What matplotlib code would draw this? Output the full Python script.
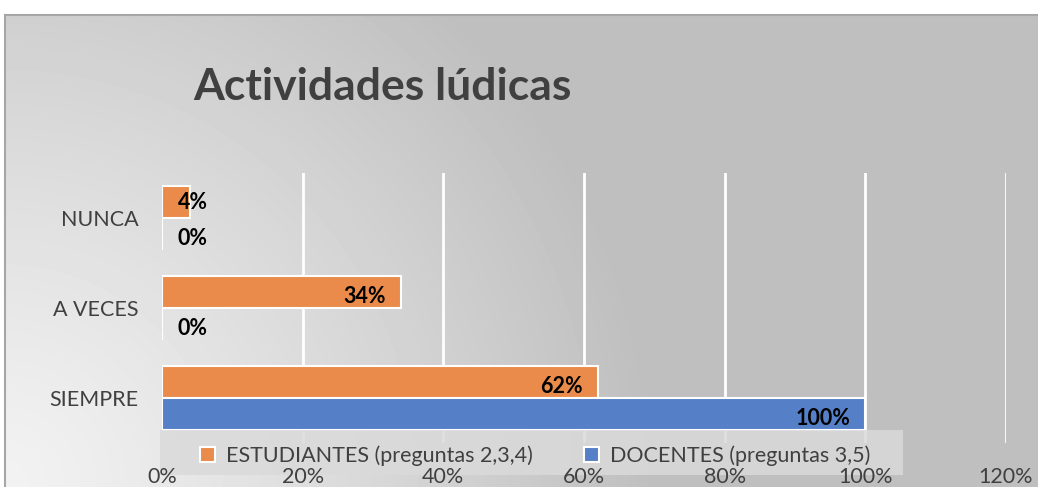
import numpy as np
import matplotlib
matplotlib.use("Agg")
import matplotlib.pyplot as plt
from matplotlib.patches import Rectangle

plt.rcParams["font.family"] = ["Lato", "DejaVu Sans"]

CATEGORIES = ["NUNCA", "A VECES", "SIEMPRE"]
ESTUDIANTES = [4, 34, 62]
DOCENTES = [0, 0, 100]
SERIES_NAMES = ["ESTUDIANTES (preguntas 2,3,4)", "DOCENTES (preguntas 3,5)"]
X_TICKS = [0, 20, 40, 60, 80, 100, 120]
TITLE = "Actividades lúdicas"

ORANGE = "#EB8B4B"
BLUE = "#5580C8"
TEXT = "#404040"

W, H = 1038, 487
fig = plt.figure(figsize=(W / 100, H / 100), dpi=100)
fig.patch.set_facecolor("white")

# chart area background with radial gradient from the lower-left corner
bg = fig.add_axes([5 / W, 0, 1 - 5 / W, (H - 15) / H])
xs = np.arange(5, W)
ys = np.arange(0, H - 15)
gx, gy = np.meshgrid(xs, ys)
d = np.clip(np.sqrt(gx**2 + gy**2) / 650, 0, 1)
shade = 0.95 - (0.95 - 0.749) * d**1.2
bg.imshow(shade, cmap="gray", vmin=0, vmax=1, origin="lower",
          extent=[0, 1, 0, 1], aspect="auto", interpolation="bilinear")
bg.set_xticks([])
bg.set_yticks([])
for side in ["right", "bottom"]:
    bg.spines[side].set_visible(False)
for side in ["left", "top"]:
    bg.spines[side].set_color("#a6a6a6")
    bg.spines[side].set_linewidth(1.5)
bg.set_zorder(-10)

ax = fig.add_axes([162 / W, (H - 443) / H, 844 / W, 270 / H])
ax.set_facecolor("none")

y = np.arange(len(CATEGORIES))
h = 0.355
b1 = ax.barh(y - h / 2, ESTUDIANTES, height=h, color=ORANGE,
             edgecolor="white", linewidth=1.5, zorder=2, label=SERIES_NAMES[0])
b2 = ax.barh(y + h / 2, DOCENTES, height=h, color=BLUE,
             edgecolor="white", linewidth=1.5, zorder=2, label=SERIES_NAMES[1])

for xt in X_TICKS[1:]:
    ax.axvline(xt, color="white", lw=2, zorder=0.5)

for vals, offs, dy in [(ESTUDIANTES, -h / 2, -4), (DOCENTES, h / 2, -5)]:
    for i, v in enumerate(vals):
        if v < 10:
            # label does not fit inside the bar: starts just right of the axis
            ax.annotate(f"{v}%", xy=(0, i + offs), xytext=(16, dy + 4 if v else dy),
                        textcoords="offset pixels", ha="left", va="center",
                        fontsize=15.5, fontweight="bold", color="black", zorder=3)
        else:
            ax.annotate(f"{v}%", xy=(v, i + offs), xytext=(-15, dy),
                        textcoords="offset pixels", ha="right", va="center",
                        fontsize=15.5, fontweight="bold", color="black", zorder=3)

ax.set_xlim(0, 120)
ax.set_ylim(2.5, -0.5)
ax.set_xticks(X_TICKS)
ax.set_xticklabels([f"{t}%" for t in X_TICKS])
ax.set_yticks(y)
ax.set_yticklabels(CATEGORIES)
ax.tick_params(axis="x", length=0, pad=17, labelsize=15.5, labelcolor=TEXT)
ax.tick_params(axis="y", length=0, pad=17, labelsize=15.5, labelcolor=TEXT)
for s in ax.spines.values():
    s.set_visible(False)
ax.xaxis.set_zorder(5)

# legend band
ax.add_patch(Rectangle((160 / W, 1 - 475 / H), 743 / W, 45 / H,
                       transform=fig.transFigure, facecolor="#dadada",
                       alpha=0.85, edgecolor="none", clip_on=False, zorder=4))
leg = fig.legend(handles=[b1, b2], loc="center",
                 bbox_to_anchor=(535 / W, 1 - 456 / H), ncol=2, frameon=False,
                 fontsize=15.5, handlelength=0.7, handleheight=0.7,
                 handletextpad=0.5, columnspacing=2.4, labelcolor=TEXT)

fig.text(193 / W, 1 - 100 / H, TITLE, fontsize=32, fontweight="bold",
         color=TEXT, va="baseline", ha="left")

fig.savefig("out.png", dpi=100)
